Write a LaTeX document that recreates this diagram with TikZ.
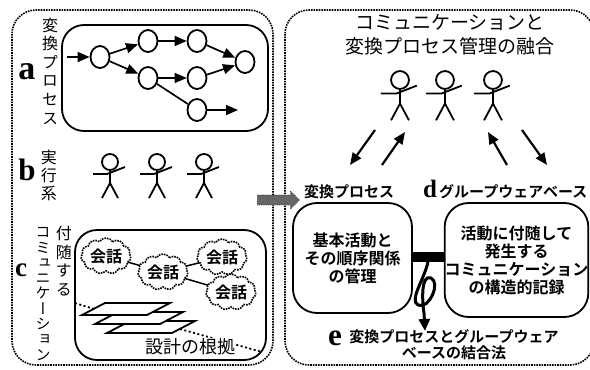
\documentclass[tikz,border=0pt]{standalone}
\usepackage{fontspec}
\setmainfont{Liberation Serif}
\newfontfamily\jp{Noto Sans CJK JP}
\newfontfamily\jpb{Noto Sans CJK JP Bold}
\newfontfamily\jpv[RawFeature=+vert]{Noto Sans CJK JP}
\usetikzlibrary{shapes.symbols,shapes.geometric,shapes.arrows,arrows.meta}
\newcommand{\jpsz}[2]{\fontsize{#1}{#2}\selectfont}
\tikzset{
  outerbox/.style={draw, line width=1.6pt, densely dotted, rounded corners=24pt},
  innerbox/.style={draw, line width=1.8pt, rounded corners=22pt},
  proc/.style={draw, ellipse, line width=1.8pt, minimum width=19pt, minimum height=22pt, inner sep=0pt, fill=white},
  flow/.style={line width=1.7pt, -{Triangle[length=12pt,width=10pt]}},
  bigflow/.style={line width=2.2pt, -{Triangle[length=12pt,width=10pt]}},
  talk/.style={draw, cloud, cloud puffs=11, cloud puff arc=115, aspect=1.5, line width=1.6pt, densely dotted, fill=white, inner sep=0pt, minimum width=50pt, minimum height=34pt, font=\jpb\jpsz{16}{16}},
  plane/.style={draw, line width=1.8pt, fill=white, line join=miter},
  hint/.style={line width=1.8pt, dash pattern=on 2pt off 2.5pt},
  vtext/.style={align=center, inner sep=0pt},
  letter/.style={inner sep=0pt, font=\bfseries\jpsz{#1}{#1}},
  roundbox/.style={draw, line width=1.8pt, rounded corners=24pt, inner sep=0pt, align=center, font=\jpb\jpsz{16}{18}},
  stick/.pic={
    \draw[line width=1.8pt] (0,0) circle[radius=8];
    \draw[line width=1.8pt, line join=round]
      (0,8) -- (0,21)
      (-17,12) -- (-3,12) -- (15,5)
      (-8,36) -- (0,21) -- (8,36);
  }
}
\begin{document}
\begin{tikzpicture}[x=1pt, y=-1pt]
\useasboundingbox (0,0) rectangle (590,370);

% two outer frames
\draw[outerbox] (12,10) rectangle (273,365);
\draw[outerbox] (285,10) rectangle (594,365);

% ---------- a: transformation process ----------
\node[letter=34] (la) at (27,72) {a};
\node[vtext, font=\jpv\jpsz{16}{18.6}] (ta) at (50,71) {変\\換\\プ\\ロ\\セ\\ス};
\draw[innerbox] (62,25) rectangle (268,131);
\node[proc] (p1) at (100,57) {};
\node[proc] (p2) at (148,41) {};
\node[proc] (p3) at (197,41) {};
\node[proc] (p4) at (245,62) {};
\node[proc] (p5) at (148,78) {};
\node[proc] (p6) at (197,78) {};
\node[proc] (p7) at (197,110) {};
\coordinate (pin) at (67,57);
\coordinate (pout) at (238,110);
\draw[flow] (pin) -- (p1);
\draw[flow] (p1) -- (p2);
\draw[flow] (p1) -- (p5);
\draw[flow] (p2) -- (p3);
\draw[flow] (p3) -- (p4);
\draw[flow] (p5) -- (p6);
\draw[flow] (p6) -- (p4);
\draw[line width=1.7pt] (p5) -- (p7);
\draw[flow] (p7) -- (pout);

% ---------- b: actors ----------
\node[letter=31] (lb) at (27,170) {b};
\node[vtext, font=\jpv\jpsz{16}{18}] (tb) at (49,175) {実\\行\\系};
\pic at (110,162) {stick};
\pic at (157,162) {stick};
\pic at (204,162) {stick};

% ---------- c: attached communication ----------
\node[letter=27] (lc) at (21,270) {c};
\node[vtext, font=\jpv\jpsz{16}{18.5}] (tc1) at (64,261) {付\\随\\す\\る};
\node[vtext, font=\jpv\jpsz{15}{15.3}] (tc2) at (43,294) {コ\\ミ\\ュ\\ニ\\ケ\\ー\\シ\\ョ\\ン};
\draw[innerbox] (75,230) rectangle (266,360);

% stacked design sheets
\draw[plane] (130,321) -- (195,321) -- (172,333) -- (107,333) -- cycle;
\draw[plane] (118,312) -- (183,312) -- (160,324) -- (95,324) -- cycle;
\draw[plane] (105,303) -- (170,303) -- (147,315) -- (82,315) -- cycle;
\coordinate (sheetL) at (94,309);
\coordinate (sheetR) at (180,329);
\coordinate (boxL) at (75,303);
\coordinate (boxR) at (262,352);
\draw[hint] (boxL) -- (sheetL);
\draw[hint] (sheetR) -- (boxR);
\node[fill=white, inner sep=1pt, font=\jp\jpsz{18}{18}] (basis) at (190,347) {設計の根拠};

% conversations
\draw[line width=1.5pt] (106,256) -- (163,272) -- (222,257) (163,272) -- (231,292);
\node[talk] (c1) at (106,256) {会話};
\node[talk] (c2) at (163,272) {会話};
\node[talk] (c3) at (222,257) {会話};
\node[talk] (c4) at (231,292) {会話};

% transition arrow between the frames
\node[single arrow, fill=black!60, draw=black!75, densely dotted, line width=0.8pt,
      minimum height=42pt, minimum width=17pt, inner sep=4.5pt,
      single arrow head extend=4pt] (shift) at (276,200) {};

% ---------- right frame ----------
\node[align=center, font=\jp\jpsz{19}{24}] (title) at (450,35) {コミュニケーションと\\変換プロセス管理の融合};
\pic[scale=1.12] at (400,80) {stick};
\pic[scale=1.12] at (445,80) {stick};
\pic[scale=1.12] at (493,80) {stick};

\coordinate (a1s) at (375,130); \coordinate (a1e) at (350,165);
\coordinate (a2s) at (382,165); \coordinate (a2e) at (405,132);
\coordinate (a3s) at (507,165); \coordinate (a3e) at (488,132);
\coordinate (a4s) at (522,130); \coordinate (a4e) at (547,165);
\draw[bigflow] (a1s) -- (a1e);
\draw[bigflow] (a2s) -- (a2e);
\draw[bigflow] (a3s) -- (a3e);
\draw[bigflow] (a4s) -- (a4e);

\node[font=\jpb\jpsz{15}{15}] (tproc) at (349,192) {変換プロセス};
\node[letter=25] (ld) at (430,189) {d};
\node[anchor=west, inner sep=0pt, font=\jpb\jpsz{15}{15}] (tgw) at (439,192) {グループウェアベース};

\node[roundbox, minimum width=119pt, minimum height=110pt] (L) at (352.5,258) {基本活動と\\その順序関係\\の管理};
\node[roundbox, minimum width=143pt, minimum height=114pt] (R) at (516.5,260) {活動に付随して\\発生する\\コミュニケーション\\の構造的記録};
\draw[line width=10pt] ([yshift=1pt]L.east) -- ([yshift=1pt]L.east -| R.west);

\coordinate (knot) at (428,262);
\coordinate (tip) at (425,331);
\draw[line width=3pt, -{Triangle[length=12pt,width=11pt]}]
  (knot) .. controls (424,280) and (409,300) .. (418,305)
         .. controls (429,310) and (441,283) .. (431,278)
         .. controls (421,274) and (422,300) .. (424,313) -- (tip);

\node[letter=31] (le) at (335,338) {e};
\node[align=center, font=\jpb\jpsz{15}{16}] (tjoin) at (454,345) {変換プロセスとグループウェア\\ベースの結合法};
\end{tikzpicture}
\end{document}
